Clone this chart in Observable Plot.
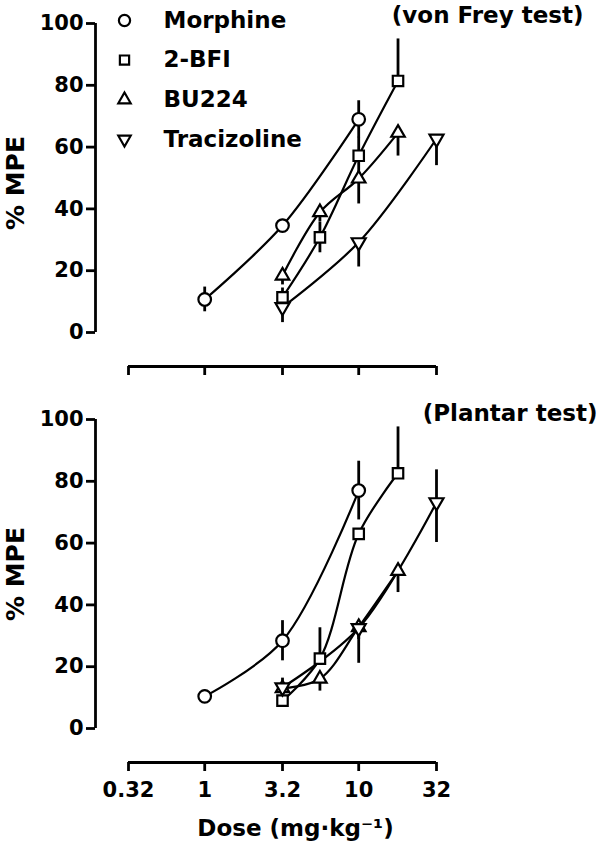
<!DOCTYPE html>
<html>
<head>
<meta charset="utf-8">
<script src="https://cdn.jsdelivr.net/npm/d3@7"></script>
<script src="https://cdn.jsdelivr.net/npm/@observablehq/plot@0.6"></script>
<style>
  body { margin: 0; background: white; }
  #chart { width: 600px; }
  #chart svg { display: block; }
</style>
</head>
<body>
<div id="chart"></div>
<script>
// ---- data ----
const drugs = ["Morphine", "2-BFI", "BU224", "Tracizoline"];
const drugDoses = [[1, 3.2, 10], [3.2, 5.6, 10, 18], [3.2, 5.6, 10, 18], [3.2, 10, 32]];

const vonFreyMean    = [[10.7, 34.6, 69], [11.4, 30.8, 57.2, 81.4], [18.4, 38.9, 49.8, 64.6], [8.2, 29.2, 62.7]];
const vonFreyErrUp   = [[4, 2, 6], [3, 5, 6, 13.6], [0, 0, 0, 0], [0, 0, 0]];
const vonFreyErrDown = [[4, 2, 6], [3, 5, 6, 0], [3, 3, 8.2, 7.5], [5, 8, 8.7]];

const plantarMean    = [[10.4, 28.4, 77], [9, 22.6, 63, 82.6], [13, 16.1, 32.8, 51], [13.3, 32.5, 73.2]];
const plantarErrUp   = [[2, 6.5, 9.5], [2, 10, 0, 15], [0, 0, 0, 0], [3, 0, 10.5]];
const plantarErrDown = [[2, 6.5, 9.5], [0, 0, 0, 0], [2, 4, 4, 7], [0, 11.4, 13]];

const doseTicks = [0.32, 1, 3.2, 10, 32];
const doseTickLabels = ["0.32", "1", "3.2", "10", "32"];
const mpeTicks = [0, 20, 40, 60, 80, 100];
const panelTitles = ["(von Frey test)", "(Plantar test)"];
const yLabel = "% MPE";
const xLabel = "Dose (mg\u00b7kg\u207b\u00b9)";

// ---- build tables ----
function table(mean, up, down) {
  const rows = [];
  drugs.forEach((drug, i) => {
    drugDoses[i].forEach((dose, j) => {
      rows.push({drug, dose, mpe: mean[i][j], up: up[i][j], down: down[i][j]});
    });
  });
  return rows;
}

const triangleDown = {
  draw(context, size) {
    const y = -Math.sqrt(size / (Math.sqrt(3) * 3));
    context.moveTo(0, -y * 2);
    context.lineTo(-Math.sqrt(3) * y, y);
    context.lineTo(Math.sqrt(3) * y, y);
    context.closePath();
  }
};
const symbols = ["circle", "square", "triangle", triangleDown];
const radii = [6.3, 5.9, 5.0, 5.2];
const legendRadii = [5.6, 5.2, 4.6, 4.6];

const FONT = "DejaVu Sans";

function panel({rows, height, marginTop, marginBottom, title, titleDx, titleDy, showTickLabels, legend, xTitle, yLabelDy}) {
  const marks = [
    Plot.ruleX([0.32], {dx: -33, y1: 0, y2: 100, strokeWidth: 2.8}),
    Plot.ruleY([0], {dy: 34, strokeWidth: 2.8}),
    Plot.axisY({ticks: mpeTicks, dx: -33, tickSize: 9, tickPadding: 3, fontSize: 21, strokeWidth: 2.8, tickFormat: d => String(d)}),
    Plot.axisX({ticks: doseTicks, dy: 34, tickSize: 9, tickPadding: 11, fontSize: 21, strokeWidth: 2.8,
      tickFormat: d => showTickLabels ? doseTickLabels[doseTicks.indexOf(d)] : ""}),
    Plot.line(rows, {x: "dose", y: "mpe", z: "drug", curve: "catmull-rom", strokeWidth: 2.2}),
    Plot.ruleX(rows, {x: "dose", y1: d => d.mpe - d.down, y2: d => d.mpe + d.up, strokeWidth: 2.8}),
    ...drugs.map((drug, i) => Plot.dot(rows.filter(r => r.drug === drug), {
      x: "dose", y: "mpe", symbol: symbols[i], r: radii[i], fill: "white", stroke: "black", strokeWidth: 2.2
    })),
    Plot.text([title], {frameAnchor: "top-right", textAnchor: "end", lineAnchor: "middle", dx: titleDx, dy: titleDy, fontSize: 23}),
    Plot.text([yLabel], {frameAnchor: "left", rotate: -90, textAnchor: "middle", lineAnchor: "middle", dx: -113, dy: yLabelDy, fontSize: 25})
  ];
  if (legend) {
    drugs.forEach((drug, i) => {
      marks.push(Plot.dot([drug], {frameAnchor: "top-left", dx: -4, dy: -3 + 39.6 * i, symbol: symbols[i], r: legendRadii[i], fill: "white", stroke: "black", strokeWidth: 2.2}));
      marks.push(Plot.text([drug], {frameAnchor: "top-left", dx: 35, dy: -3 + 39.6 * i, text: d => d, textAnchor: "start", lineAnchor: "middle", fontSize: 23}));
    });
  }
  if (xTitle) {
    marks.push(Plot.text([xTitle], {frameAnchor: "bottom", textAnchor: "middle", dx: 13, dy: 100, text: d => d, lineAnchor: "middle", fontSize: 23}));
  }
  return Plot.plot({
    width: 600,
    height,
    marginLeft: 128,
    marginRight: 164,
    marginTop,
    marginBottom,
    style: {fontFamily: FONT, fontWeight: "bold", color: "black", background: "white"},
    x: {type: "log", domain: [0.32, 32], label: null},
    y: {domain: [0, 100], label: null},
    marks
  });
}

const topPanel = panel({
  rows: table(vonFreyMean, vonFreyErrUp, vonFreyErrDown),
  height: 400, marginTop: 23, marginBottom: 68,
  title: panelTitles[0], titleDx: 147, titleDy: -8,
  showTickLabels: false, legend: true, xTitle: null, yLabelDy: 5
});
const bottomPanel = panel({
  rows: table(plantarMean, plantarErrUp, plantarErrDown),
  height: 446, marginTop: 19, marginBottom: 118,
  title: panelTitles[1], titleDx: 161, titleDy: -6,
  showTickLabels: true, legend: false, xTitle: xLabel, yLabelDy: 0
});
const el = document.getElementById("chart");
el.appendChild(topPanel);
el.appendChild(bottomPanel);
</script>
</body>
</html>
